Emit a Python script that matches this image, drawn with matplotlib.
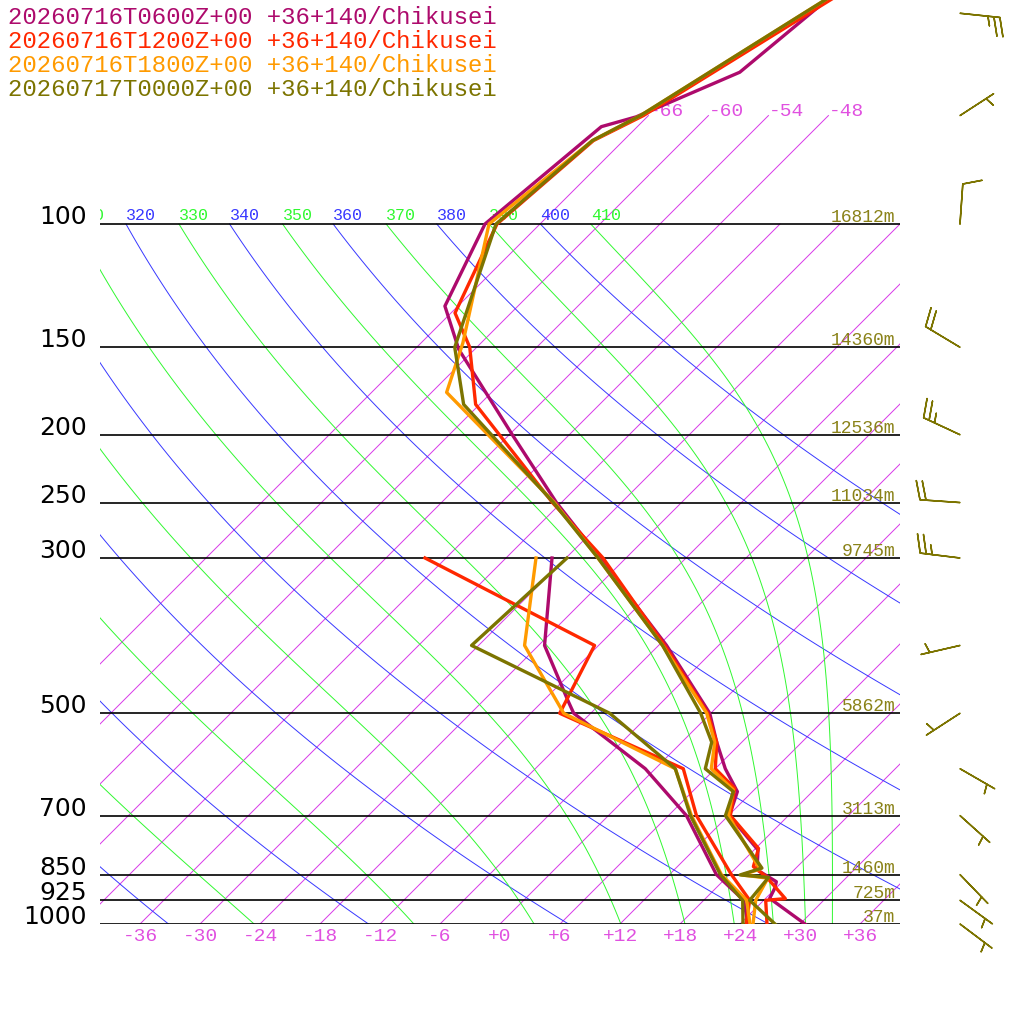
import numpy as np
import matplotlib
matplotlib.use('Agg')
import matplotlib.pyplot as plt
from matplotlib.transforms import Affine2D, offset_copy
from matplotlib.ticker import NullLocator

MONO = 'Liberation Mono'

# runs shown (oldest first, last one drawn on top)
runs = ['20260716T0600Z+00', '20260716T1200Z+00', '20260716T1800Z+00', '20260717T0000Z+00']
site = '+36+140/Chikusei'
run_colors = ['#ad0a6c', '#ff2800', '#ff9a00', '#7c7400']

# temperature profiles, hPa / degC
t06_p = [40, 50, 60.7, 70.3, 72.6, 100, 131, 151, 200, 250, 300, 400, 500, 550, 600, 647, 700, 784, 837, 870, 889, 919, 1000]
t06_t = [-58.6, -60.0, -61.2, -67.1, -69.6, -71.5, -67.3, -61.6, -47.7, -36.5, -26.6, -11.2, -0.1, 3.5, 7.0, 10.5, 12.1, 18.4, 20.3, 23.4, 23.9, 24.4, 30.5]
t12_p = [40, 50, 70, 76, 100, 134, 150, 181, 250, 300, 400, 500, 550, 600, 640, 700, 780, 828, 856, 920, 925, 1000]
t12_t = [-56.0, -60.2, -66.5, -69.0, -70.3, -65.6, -60.7, -54.4, -36.9, -26.3, -11.4, -0.3, 3.5, 6.0, 9.9, 12.2, 18.3, 19.6, 21.9, 26.0, 24.2, 26.7]
t18_p = [40, 50, 70, 76, 100, 148, 174, 250, 300, 400, 500, 550, 600, 643, 700, 835, 851, 860, 925, 1000]
t18_t = [-56.6, -60.7, -66.8, -69.1, -71.1, -61.8, -58.5, -36.7, -26.8, -11.6, -0.4, 3.3, 5.6, 9.9, 12.0, 20.5, 19.3, 22.2, 23.2, 25.3]
t00_p = [40, 50, 70, 76, 100, 150, 181, 250, 300, 400, 500, 550, 600, 647, 700, 832, 851, 858, 925, 1000]
t00_t = [-56.6, -60.7, -66.8, -69.1, -70.4, -62.2, -55.6, -36.8, -26.8, -11.6, -1.0, 3.0, 5.0, 10.1, 11.7, 20.6, 19.1, 22.2, 22.6, 27.5]

# dewpoint profiles, hPa / degC
d06_p = [300, 400, 479, 500, 600, 700, 850, 925, 1000]
d06_t = [-31.4, -23.4, -15.6, -13.7, -1.0, 7.8, 16.7, 22.0, 24.8]
d12_p = [300, 400, 500, 600, 700, 850, 925, 1000]
d12_t = [-44.1, -18.4, -15.1, 2.8, 8.8, 18.2, 22.6, 24.6]
d18_p = [300, 400, 500, 600, 700, 850, 925, 1000]
d18_t = [-33.0, -25.4, -14.7, 2.0, 8.3, 17.2, 22.3, 25.0]
d00_p = [300, 400, 500, 600, 700, 850, 925, 1000]
d00_t = [-29.9, -30.7, -10.1, 2.0, 8.2, 17.1, 21.9, 24.3]

temps = [(t06_p, t06_t), (t12_p, t12_t), (t18_p, t18_t), (t00_p, t00_t)]
dews = [(d06_p, d06_t), (d12_p, d12_t), (d18_p, d18_t), (d00_p, d00_t)]

# standard levels with heights of the last run
levels = [100, 150, 200, 250, 300, 500, 700, 850, 925, 1000]
heights = ['16812m', '14360m', '12536m', '11034m', '9745m', '5862m', '3113m', '1460m', '725m', '37m']

# winds of the last run
wind_p = [50, 70, 100, 150, 200, 250, 300, 400, 500, 600, 700, 850, 925, 1000]
wind_dir = [96, 57, 4, 301, 295, 274, 277, 257, 237, 120, 132, 136, 126, 127]
wind_kt = [25, 5, 10, 20, 25, 20, 25, 5, 5, 5, 5, 5, 5, 5]

isotherms = np.arange(-66, 43, 6)
thetas = np.arange(240, 401, 20)
theta_es = np.arange(230, 411, 20)
xtick_vals = np.arange(-36, 37, 6)

P_TOP = 1000 * 10 ** (-924 / 700)
ISO_C = '#d838e8'
PINK = '#e050e0'
BLUE = '#3838ff'
GREEN = '#30f830'


def theta_e(tk, p):
    es = 6.112 * np.exp(17.67 * (tk - 273.15) / (tk - 29.65))
    with np.errstate(divide='ignore', invalid='ignore', over='ignore'):
        r = np.where(es < 0.9 * p, 622.0 * es / (p - es), 1e4)
        ex = np.minimum((3.376 / tk - 0.00254) * r * (1 + 0.00081 * r), 50)
        return tk * (1000.0 / p) ** (0.2854 * (1 - 0.00028 * r)) * np.exp(ex)


def moist_t(the, p):
    lo = np.full_like(p, 150.0)
    hi = np.full_like(p, 330.0)
    for _ in range(50):
        mid = 0.5 * (lo + hi)
        big = theta_e(mid, p) > the
        hi = np.where(big, mid, hi)
        lo = np.where(big, lo, mid)
    return 0.5 * (lo + hi) - 273.15


fig = plt.figure(figsize=(10.24, 10.24), dpi=100)
ax = fig.add_axes([100 / 1024, 100 / 1024, 800 / 1024, 924 / 1024])
ax.set_yscale('log')
ax.set_xlim(-40, 40)
ax.set_ylim(1000, P_TOP)
ax.set_autoscale_on(False)
ax.patch.set_visible(False)
for s in ax.spines.values():
    s.set_visible(False)

# skew: 1 px right for every px up, zero at 1000 hPa
skew = Affine2D().translate(0, -100).skew_deg(45, 0).translate(0, 100)
tr = ax.transData + skew
thin = dict(lw=0.7, transform=tr, zorder=1)

# isotherms
for t in isotherms:
    ptop = 70 if t <= -48 else 100
    ax.plot([t, t], [1050, ptop], color=ISO_C, **thin)
    if t <= -48:
        ax.text(t, 70, '%d' % t, transform=tr, color=PINK, family=MONO,
                fontsize=14, ha='left', va='baseline', clip_on=True)

pp = np.logspace(np.log10(1050), 2, 120)
lab_tr = offset_copy(tr, fig=fig, x=0, y=4, units='dots')

# dry adiabats
for th in thetas:
    ax.plot(th * (pp / 1000) ** 0.2857 - 273.15, pp, color=BLUE, **thin)
    t100 = th * 0.1 ** 0.2857 - 273.15
    if t100 > -114:
        ax.text(t100, 100, str(th), transform=lab_tr, color=BLUE, family=MONO,
                fontsize=12, ha='left', va='baseline', clip_on=True)

# moist adiabats
for the in theta_es:
    tm = moist_t(the, pp)
    ax.plot(tm, pp, color=GREEN, **thin)
    if tm[-1] > -114:
        ax.text(tm[-1], 100, str(the), transform=lab_tr, color=GREEN,
                family=MONO, fontsize=12, ha='left', va='baseline', clip_on=True)

# isobars and heights
h_tr = offset_copy(ax.get_yaxis_transform(), fig=fig, x=0, y=2, units='dots')
for p, h in zip(levels, heights):
    ax.axhline(p, color='black', lw=1.2, zorder=2)
    ax.text(0.994, p, h, transform=h_tr, color='#8a8218', family=MONO,
            fontsize=13, ha='right', va='baseline')

# soundings
for (tp, tt), (dp, dt), c in zip(temps, dews, run_colors):
    ax.plot(tt, tp, color=c, lw=2.4, transform=tr, zorder=4)
    ax.plot(dt, dp, color=c, lw=2.4, transform=tr, zorder=4)

ax.set_yticks(levels)
ax.set_yticklabels([str(p) for p in levels])
ax.yaxis.set_minor_locator(NullLocator())
ax.tick_params(axis='y', length=0, pad=9.5, labelsize=18)
for lab in ax.get_yticklabels():
    lab.set_verticalalignment('baseline')

ax.set_xticks(xtick_vals)
ax.set_xticklabels([('%+d' % v) if v >= 0 else ('-%d' % -v) for v in xtick_vals])
ax.tick_params(axis='x', length=0, pad=3, labelsize=14, labelcolor=PINK)
for lab in ax.get_xticklabels():
    lab.set_family(MONO)

# title lines
for i, (r, c) in enumerate(zip(runs, run_colors)):
    fig.text(8 / 1024, 1 - (17 + 24 * i) / 1024, r + ' ' + site, color=c,
             family=MONO, fontsize=17.3, ha='left', va='center')

# wind barbs (barb length in px ~ length**2/2 * dpi/72)
bax = fig.add_axes([900 / 1024, 100 / 1024, 124 / 1024, 924 / 1024])
bax.set_yscale('log')
bax.set_ylim(1000, P_TOP)
bax.set_xlim(0, 124)
bax.axis('off')
wd = np.radians(wind_dir)
ws = np.array(wind_kt, dtype=float)
bax.barbs(np.full(len(ws), 60.0), wind_p, -ws * np.sin(wd), -ws * np.cos(wd),
          length=7.6, color='#7c7400', linewidth=1.1,
          sizes=dict(spacing=0.15, height=0.47, width=0.25), clip_on=False)

fig.savefig('out.png', dpi=100)
